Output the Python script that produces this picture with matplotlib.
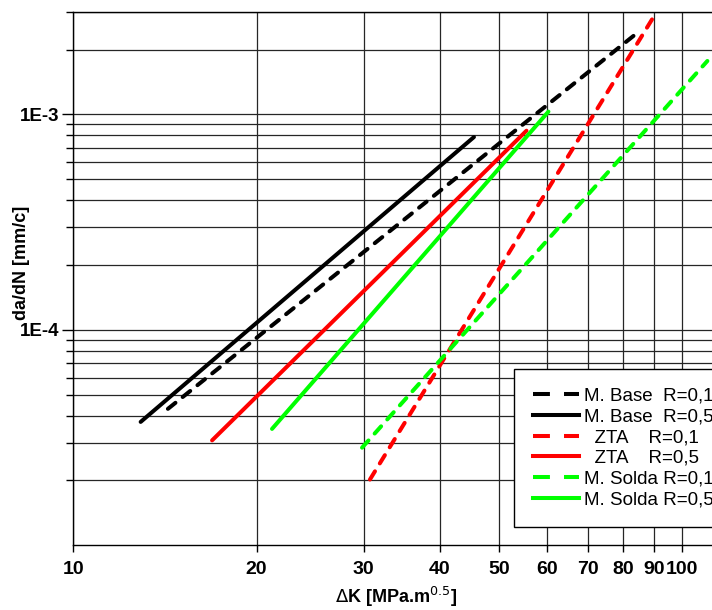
import numpy as np
import matplotlib
matplotlib.use('Agg')
import matplotlib.pyplot as plt
from matplotlib.lines import Line2D
from matplotlib.ticker import FixedLocator, FixedFormatter, NullFormatter

plt.rcParams['font.family'] = ['Liberation Sans', 'DejaVu Sans']

# end points of each fitted line (dK [MPa.m^0.5], da/dN [mm/c])
labels = ['M. Base  R=0,1', 'M. Base  R=0,5', '  ZTA    R=0,1',
          '  ZTA    R=0,5', 'M. Solda R=0,1', 'M. Solda R=0,5']
dk = [[14.3, 83.6], [12.9, 45.5], [30.7, 89.3],
      [16.9, 55.5], [29.8, 110.0], [21.2, 60.3]]
dadn = [[4.3e-5, 2.34e-3], [3.74e-5, 7.85e-4], [2.02e-5, 2.77e-3],
        [3.07e-5, 8.4e-4], [2.84e-5, 1.77e-3], [3.47e-5, 1.03e-3]]
colors = ['black', 'black', '#ff0000', '#ff0000', '#00ff00', '#00ff00']
dashed = [True, False, True, False, True, False]

xticks = [10, 20, 30, 40, 50, 60, 70, 80, 90, 100]
yticks_major = [1e-4, 1e-3]
ytick_labels = ['1E-4', '1E-3']

fig = plt.figure(figsize=(7.12, 6.10), dpi=100)
ax = fig.add_axes([0.103, 0.106, 0.907, 0.875])
ax.set_xscale('log')
ax.set_yscale('log')
ax.set_xlim(10, 115)
ax.set_ylim(1e-5, 3e-3)

lw = 2.9
handles = []
for x, y, c, d, lab in zip(dk, dadn, colors, dashed, labels):
    if d:
        ax.plot(x, y, color=c, lw=lw, dashes=(2.4, 2.3),
                dash_capstyle='round', zorder=3)
        handles.append(Line2D([], [], color=c, lw=lw, dashes=(4.2, 3.5),
                              dash_capstyle='butt', label=lab))
    else:
        ax.plot(x, y, color=c, lw=lw, solid_capstyle='round', zorder=3)
        handles.append(Line2D([], [], color=c, lw=lw, label=lab))

# grid
ax.xaxis.set_major_locator(FixedLocator(xticks))
ax.xaxis.set_major_formatter(FixedFormatter([str(t) for t in xticks]))
ax.xaxis.set_minor_locator(FixedLocator([]))
ymin = [m * 10.0 ** e for e in (-5, -4, -3) for m in range(2, 10)]
ymin = [v for v in ymin if v <= 3e-3]
ax.yaxis.set_major_locator(FixedLocator(yticks_major))
ax.yaxis.set_major_formatter(FixedFormatter(ytick_labels))
ax.yaxis.set_minor_locator(FixedLocator(ymin))
ax.yaxis.set_minor_formatter(NullFormatter())
ax.grid(True, which='both', color='0.15', lw=0.9)
ax.set_axisbelow(True)

for s in ax.spines.values():
    s.set_linewidth(1.0)
ax.tick_params(axis='x', which='major', direction='out', length=5, width=1,
               pad=6, labelsize=14, top=False)
ax.tick_params(axis='y', which='major', direction='out', length=8, width=1,
               pad=2, labelsize=13.5, right=False)
ax.tick_params(axis='y', which='minor', direction='out', length=5, width=1,
               right=False)
for t in ax.get_xticklabels() + ax.get_yticklabels():
    t.set_fontweight('bold')

ax.set_xlabel(r'$\Delta$K [MPa.m$^{0.5}$]', fontsize=13, fontweight='bold',
              va='center')
ax.xaxis.set_label_coords(0.5, -0.097)
ax.set_ylabel('da/dN [mm/c]', fontsize=13, fontweight='bold', va='center')
ax.yaxis.set_label_coords(-0.081, 0.529)

leg = ax.legend(handles=handles, loc='upper left',
                bbox_to_anchor=(514 / 712, 1 - 369 / 610),
                bbox_transform=fig.transFigure, borderaxespad=0,
                fontsize=13.5, frameon=True, fancybox=False, framealpha=1,
                edgecolor='black', handlelength=2.45, handletextpad=0.27,
                labelspacing=0.19, borderpad=1.0)
leg.get_frame().set_linewidth(1.0)
leg.set_zorder(5)

fig.savefig('out.png', dpi=100)
